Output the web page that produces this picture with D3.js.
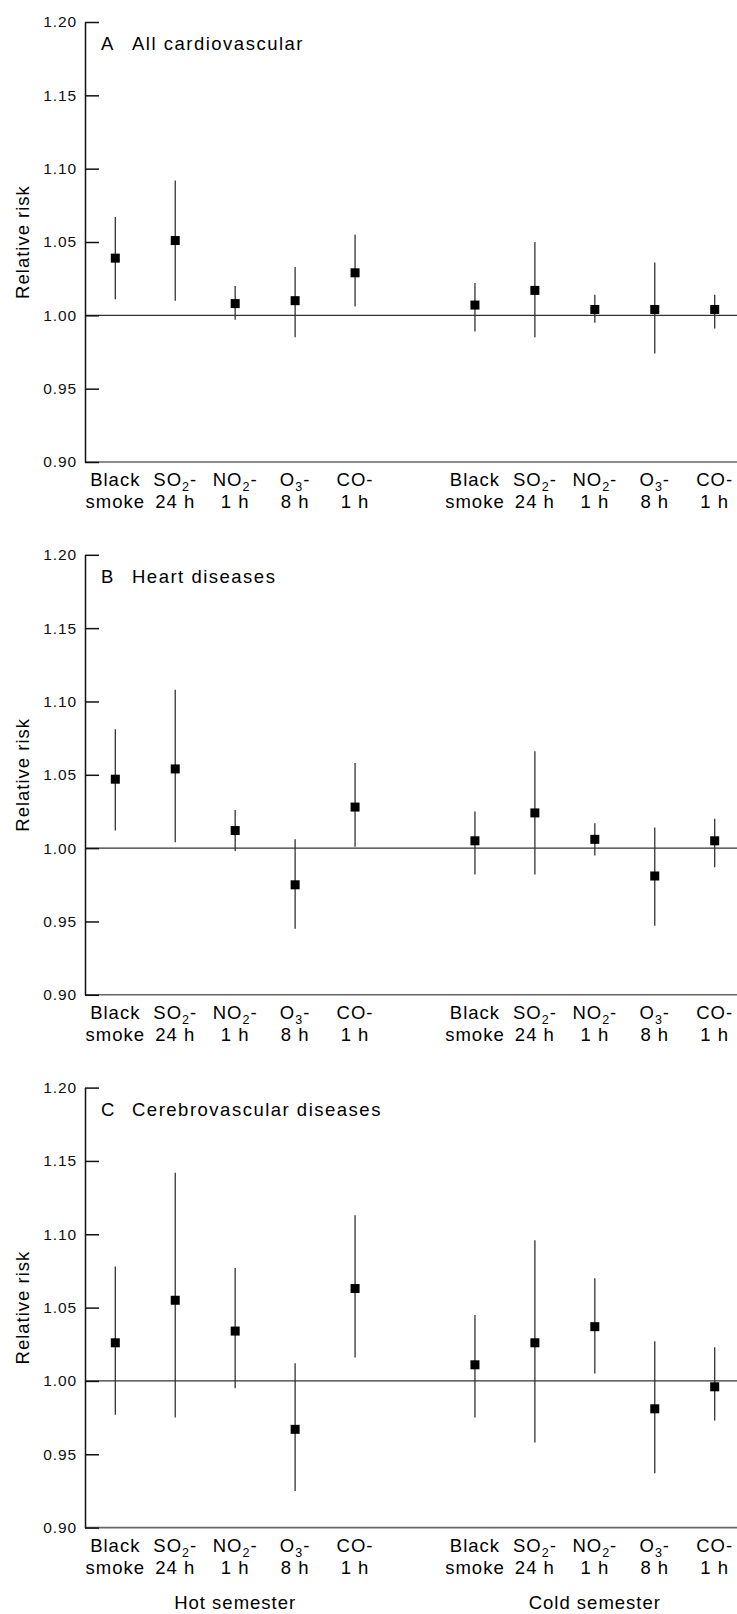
<!DOCTYPE html>
<html lang="en">
<head>
  <meta charset="utf-8">
  <title>Relative risk by pollutant</title>
  <script src="https://cdn.jsdelivr.net/npm/d3@7/dist/d3.min.js"></script>
  <style>
    body { margin: 0; background: #fff; }
    svg { display: block; font-family: "Liberation Sans", Arial, sans-serif; }
    .axis path, .axis line { stroke: #111; stroke-width: 1.5; }
    .axis text { fill: #111; }
    .ref { stroke: #333; stroke-width: 1.3; }
    .base { stroke: #666; stroke-width: 1.6; }
    .ci { stroke: #333; stroke-width: 1.3; }
    .pt { fill: #000; }
  </style>
</head>
<body>
  <div id="chart"></div>
  <script>
    // ---- data ----
    var seasons = ["Hot semester", "Cold semester"];
    var catMain = ["Black", "SO", "NO", "O", "CO"];
    var catSub = ["", "2", "2", "3", ""];
    var catSuffix = ["", "-", "-", "-", "-"];
    var catLine2 = ["smoke", "24 h", "1 h", "8 h", "1 h"];
    var yTicks = [0.90, 0.95, 1.00, 1.05, 1.10, 1.15, 1.20];

    var panelLetters = ["A", "B", "C"];
    var panelTitles = ["All cardiovascular", "Heart diseases", "Cerebrovascular diseases"];

    // hot semester (5) then cold semester (5)
    var rrA = [1.039, 1.051, 1.008, 1.010, 1.029, 1.007, 1.017, 1.004, 1.004, 1.004];
    var loA = [1.011, 1.010, 0.997, 0.985, 1.006, 0.989, 0.985, 0.995, 0.974, 0.991];
    var hiA = [1.067, 1.092, 1.020, 1.033, 1.055, 1.022, 1.050, 1.014, 1.036, 1.014];

    var rrB = [1.047, 1.054, 1.012, 0.975, 1.028, 1.005, 1.024, 1.006, 0.981, 1.005];
    var loB = [1.012, 1.004, 0.998, 0.945, 1.001, 0.982, 0.982, 0.995, 0.947, 0.987];
    var hiB = [1.081, 1.108, 1.026, 1.006, 1.058, 1.025, 1.066, 1.017, 1.014, 1.020];

    var rrC = [1.026, 1.055, 1.034, 0.967, 1.063, 1.011, 1.026, 1.037, 0.981, 0.996];
    var loC = [0.977, 0.975, 0.995, 0.925, 1.016, 0.975, 0.958, 1.005, 0.937, 0.973];
    var hiC = [1.078, 1.142, 1.077, 1.012, 1.113, 1.045, 1.096, 1.070, 1.027, 1.023];

    var panelRR = [rrA, rrB, rrC];
    var panelLo = [loA, loB, loC];
    var panelHi = [hiA, hiB, hiC];

    // ---- layout ----
    var W = 737, H = 1614;
    var axisX = 85, rightX = 737;
    var panelTop = 22, panelH = 440, panelStep = 532.8;

    var svg = d3.select("#chart").append("svg")
      .attr("width", W)
      .attr("height", H);

    // slot index: hot 0..4, gap at 5, cold 6..10
    function slot(i) { return i < 5 ? i : i + 1; }
    var xScale = d3.scaleLinear().domain([0, 10]).range([115.3, 714.7]);

    panelLetters.forEach(function (letter, p) {
      var top = panelTop + p * panelStep;
      var yScale = d3.scaleLinear().domain([0.90, 1.20]).range([top + panelH, top]);
      var g = svg.append("g");

      // baseline at 0.90
      g.append("line").attr("class", "base")
        .attr("x1", axisX).attr("x2", rightX)
        .attr("y1", yScale(0.90)).attr("y2", yScale(0.90));

      // reference line at 1.00
      g.append("line").attr("class", "ref")
        .attr("x1", axisX).attr("x2", rightX)
        .attr("y1", yScale(1.00)).attr("y2", yScale(1.00));

      // y axis, ticks pointing inward
      var yAxis = d3.axisLeft(yScale)
        .tickValues(yTicks)
        .tickFormat(d3.format(".2f"))
        .tickSizeInner(-14)
        .tickSizeOuter(0)
        .tickPadding(8);

      var ga = g.append("g")
        .attr("class", "axis")
        .attr("transform", "translate(" + axisX + ",0)")
        .call(yAxis);
      ga.attr("font-size", 15.5).attr("font-family", null);
      ga.selectAll("text").style("letter-spacing", "0.9px");

      // y label
      g.append("text")
        .attr("transform", "translate(29," + (top + panelH / 2) + ") rotate(-90)")
        .attr("text-anchor", "middle")
        .attr("font-size", 18.5)
        .style("letter-spacing", "1px")
        .text("Relative risk");

      // panel title
      var t = g.append("text")
        .attr("y", top + 28)
        .attr("font-size", 18.5)
        .style("letter-spacing", "1.5px");
      t.append("tspan").attr("x", 101).text(letter);
      t.append("tspan").attr("x", 132).text(panelTitles[p]);

      // error bars
      var rr = panelRR[p], lo = panelLo[p], hi = panelHi[p];
      g.selectAll("line.ci").data(rr).enter().append("line")
        .attr("class", "ci")
        .attr("x1", function (d, i) { return xScale(slot(i)); })
        .attr("x2", function (d, i) { return xScale(slot(i)); })
        .attr("y1", function (d, i) { return yScale(lo[i]); })
        .attr("y2", function (d, i) { return yScale(hi[i]); });

      // point estimates
      g.selectAll("rect.pt").data(rr).enter().append("rect")
        .attr("class", "pt")
        .attr("width", 9).attr("height", 9)
        .attr("x", function (d, i) { return xScale(slot(i)) - 4.5; })
        .attr("y", function (d) { return yScale(d) - 4.5; });

      // category labels
      var labels = [];
      for (var s = 0; s < 2; s++) {
        for (var c = 0; c < catMain.length; c++) labels.push({ c: c, i: s * 5 + c });
      }
      var baseY = yScale(0.90);
      var lab = g.selectAll("g.cat").data(labels).enter().append("g")
        .attr("class", "cat")
        .attr("font-size", 18.5)
        .style("letter-spacing", "1px");

      var l1 = lab.append("text")
        .attr("text-anchor", "middle")
        .attr("x", function (d) { return xScale(slot(d.i)); })
        .attr("y", baseY + 24);
      l1.append("tspan").text(function (d) { return catMain[d.c]; });
      l1.append("tspan")
        .attr("font-size", 12.5)
        .attr("dy", function (d) { return catSub[d.c] ? 5 : 0; })
        .text(function (d) { return catSub[d.c]; });
      l1.append("tspan")
        .attr("dy", function (d) { return catSub[d.c] ? -5 : 0; })
        .text(function (d) { return catSuffix[d.c]; });

      lab.append("text")
        .attr("text-anchor", "middle")
        .attr("x", function (d) { return xScale(slot(d.i)); })
        .attr("y", baseY + 46)
        .text(function (d) { return catLine2[d.c]; });

      // semester labels under the last panel only
      if (p === panelLetters.length - 1) {
        g.selectAll("text.season").data(seasons).enter().append("text")
          .attr("class", "season")
          .attr("text-anchor", "middle")
          .attr("font-size", 18.5)
          .style("letter-spacing", "1px")
          .attr("x", function (d, i) { return xScale(i * 6 + 2); })
          .attr("y", baseY + 81)
          .text(function (d) { return d; });
      }
    });
  </script>
</body>
</html>
